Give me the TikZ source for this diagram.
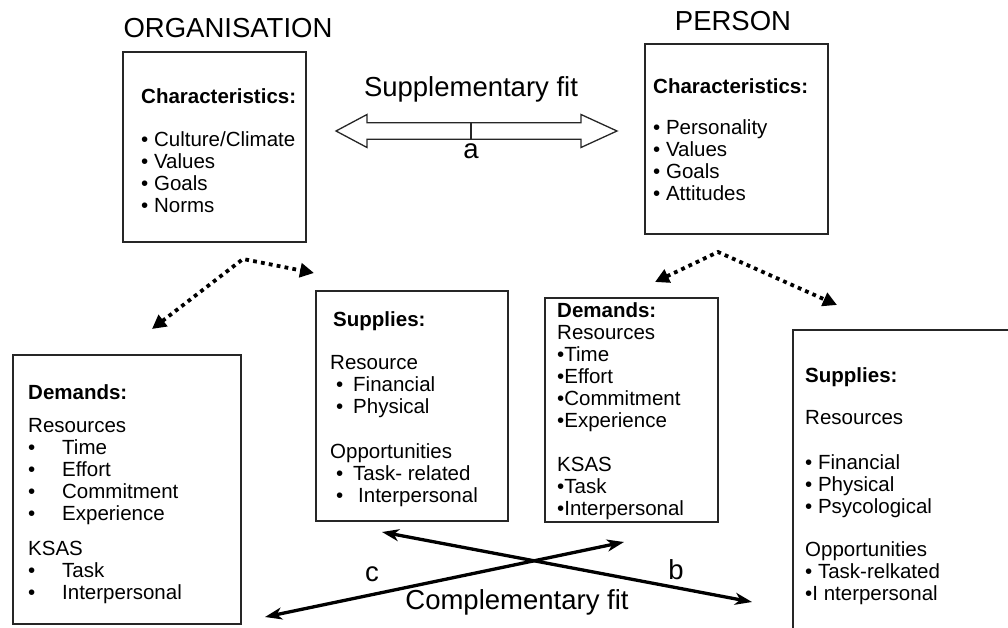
\documentclass[tikz,border=0pt]{standalone}
\usepackage{fontspec}
\setmainfont{Liberation Sans}
\usetikzlibrary{arrows.meta}
\newcommand{\bodyf}{\fontsize{20.5}{22}\selectfont}
\newcommand{\bigf}{\fontsize{27.5}{30}\selectfont}
\newcommand{\bl}[2]{\makebox[#1][l]{•}#2}
\begin{document}
\begin{tikzpicture}[x=1pt,y=-1pt,
  box/.style={draw=black!85, line width=1.2pt, anchor=north west, inner sep=0pt, outer sep=0pt},
  txt/.style={anchor=base west, inner sep=0pt, font=\bodyf},
  big/.style={anchor=base, inner sep=0pt, font=\bigf},
  dotarrow/.style={line width=3.8pt, dash pattern=on 3.8pt off 4.2pt,
     {Triangle[length=14pt,width=14pt]}-{Triangle[length=14pt,width=14pt]}},
  crossarrow/.style={line width=3.3pt,
     {Stealth[length=17pt,width=12pt,inset=5pt]}-{Stealth[length=17pt,width=12pt,inset=5pt]}},
  outl/.style={draw=black!85, line width=1.3pt, line join=miter}]
\useasboundingbox (0,0) rectangle (1008,628);
\clip (0,0) rectangle (1008,628);

% titles
\node[big] (torg) at (228,38) {ORGANISATION};
\node[big] (tper) at (733,31) {PERSON};
\node[big] (tsup) at (471,97) {Supplementary fit};
\node[big] (tcomp) at (517,609) {Complementary fit};

% boxes
\node[box, minimum width=183pt, minimum height=190pt] (org) at (123,52) {};
\node[box, minimum width=183pt, minimum height=190pt] (per) at (645,44) {};
\node[box, minimum width=228pt, minimum height=269pt] (ldem) at (13,355) {};
\node[box, minimum width=192pt, minimum height=230pt] (msup) at (316,291) {};
\node[box, minimum width=173pt, minimum height=224pt] (rdem) at (545,298) {};
\node[box, minimum width=260pt, minimum height=340pt] (rsup) at (793,330) {};

% organisation characteristics
\node[txt] (o1) at (141,104) {\textbf{Characteristics:}};
\node[txt] (o2) at (141,147) {• Culture/Climate};
\node[txt] (o3) at (141,169) {• Values};
\node[txt] (o4) at (141,191) {• Goals};
\node[txt] (o5) at (141,213) {• Norms};

% person characteristics
\node[txt] (p1) at (653,94) {\textbf{Characteristics:}};
\node[txt] (p2) at (653,135) {• Personality};
\node[txt] (p3) at (653,157) {• Values};
\node[txt] (p4) at (653,179) {• Goals};
\node[txt] (p5) at (653,201) {• Attitudes};

% left demands
\node[txt] (ld1) at (28,399) {\textbf{Demands:}};
\node[txt] (ld2) at (28,432) {Resources};
\node[txt] (ld3) at (28,454) {\bl{34pt}{Time}};
\node[txt] (ld4) at (28,476) {\bl{34pt}{Effort}};
\node[txt] (ld5) at (28,498) {\bl{34pt}{Commitment}};
\node[txt] (ld6) at (28,520) {\bl{34pt}{Experience}};
\node[txt] (ld7) at (28,555) {KSAS};
\node[txt] (ld8) at (28,577) {\bl{34pt}{Task}};
\node[txt] (ld9) at (28,599) {\bl{34pt}{Interpersonal}};

% middle supplies
\node[txt] (ms1) at (333,326) {\textbf{Supplies:}};
\node[txt] (ms2) at (330,369) {Resource};
\node[txt] (ms3) at (336,391) {\bl{17pt}{Financial}};
\node[txt] (ms4) at (336,413) {\bl{17pt}{Physical}};
\node[txt] (ms5) at (330,458) {Opportunities};
\node[txt] (ms6) at (336,480) {\bl{17pt}{Task- related}};
\node[txt] (ms7) at (336,502) {\bl{22pt}{Interpersonal}};

% right demands
\node[txt] (rd1) at (557,317) {\textbf{Demands:}};
\node[txt] (rd2) at (557,339) {Resources};
\node[txt] (rd3) at (557,361) {•Time};
\node[txt] (rd4) at (557,383) {•Effort};
\node[txt] (rd5) at (557,405) {•Commitment};
\node[txt] (rd6) at (557,427) {•Experience};
\node[txt] (rd7) at (557,471) {KSAS};
\node[txt] (rd8) at (557,493) {•Task};
\node[txt] (rd9) at (557,515) {•Interpersonal};

% right supplies
\node[txt] (rs1) at (805,382) {\textbf{Supplies:}};
\node[txt] (rs2) at (805,424) {Resources};
\node[txt] (rs3) at (805,469) {• Financial};
\node[txt] (rs4) at (805,491) {• Physical};
\node[txt] (rs5) at (805,513) {• Psycological};
\node[txt] (rs6) at (805,556) {Opportunities};
\node[txt] (rs7) at (805,578) {• Task-relkated};
\node[txt] (rs8) at (805,600) {•I nterpersonal};

% supplementary fit double arrow (outlined)
\coordinate (aL) at (336,131);
\coordinate (aR) at (617,131);
\draw[outl] (aL) -- (367,114.5) -- (367,122.7) -- (581,122.7) -- (581,114.5) -- (aR)
  -- (581,147.5) -- (581,139.3) -- (367,139.3) -- (367,147.5) -- cycle;
\coordinate (tickT) at (471,122.7);
\coordinate (tickB) at (471,139.3);
\draw[outl] (tickT) -- (tickB);
\node[big, anchor=center] (la) at (471,151) {a};

% dotted arrows
\coordinate (oapex) at (243,259);
\coordinate (otipL) at (152,329);
\coordinate (otipR) at (314,273);
\draw[dotarrow] (otipL) -- (oapex) -- (otipR);
\coordinate (papex) at (718,252);
\coordinate (ptipL) at (655,282);
\coordinate (ptipR) at (837,305);
\draw[dotarrow] (ptipL) -- (papex) -- (ptipR);

% complementary fit crossing arrows
\coordinate (b1) at (382,532);
\coordinate (b2) at (752,602);
\coordinate (c1) at (265,617);
\coordinate (c2) at (624,542);
\draw[crossarrow] (b1) -- (b2);
\draw[crossarrow] (c1) -- (c2);
\node[big, anchor=center] (lb) at (676,570) {b};
\node[big, anchor=center] (lc) at (372,574) {c};
\end{tikzpicture}
\end{document}
